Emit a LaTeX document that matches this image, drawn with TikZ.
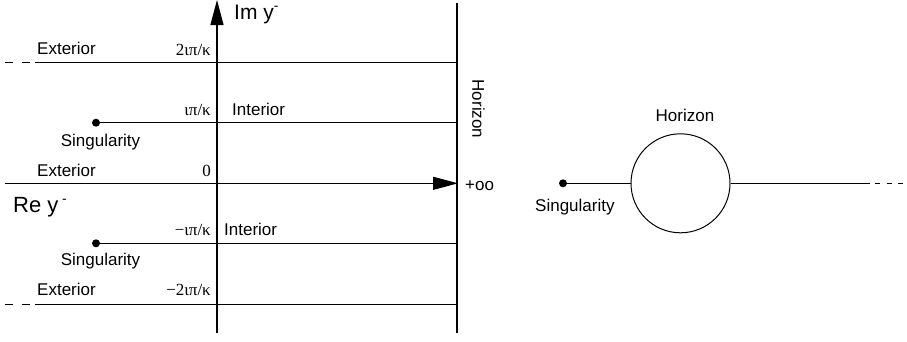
\documentclass[tikz,border=0pt]{standalone}
\usepackage{fontspec}
\setmainfont{Liberation Sans}
\newfontfamily\greekserif{Liberation Serif}
\usetikzlibrary{positioning}
\usetikzlibrary{arrows.meta}
\tikzset{
  lbl/.style={font=\fontsize{17}{19}\selectfont, inner sep=0pt},
  glbl/.style={font=\greekserif\fontsize{17}{19}\selectfont, inner sep=0pt},
  biglbl/.style={font=\fontsize{22}{24}\selectfont, inner sep=0pt},
  dot/.style={circle, fill, inner sep=0pt, minimum size=8pt},
  axis/.style={line width=1.2pt, -{Triangle[length=25pt,width=13pt]}},
  gridline/.style={line width=1pt},
  dashline/.style={line width=1pt, dash pattern=on 7.5pt off 9.5pt},
}
\newcommand\minussup{\raisebox{0.42em}[0pt][0pt]{\fontsize{14}{14}\selectfont -}}

\begin{document}
\begin{tikzpicture}[x=1pt,y=-1pt]
\useasboundingbox (0,0) rectangle (907,341);

% ---------- Axes ----------
\coordinate (ybot) at (217,333);
\coordinate (ytop) at (217,0);
\draw[axis] (ybot) -- (ytop);

\coordinate (xleft) at (5,183.3);
\coordinate (xright) at (458,183.3);
\draw[axis] (xleft) -- (xright);

% Horizon line
\coordinate (hztop) at (457,3);
\coordinate (hzbot) at (457,333);
\draw[line width=1.2pt] (hztop) -- (hzbot);

% ---------- Exterior lines ----------
\foreach \n/\y in {up/62, down/304}{
  \coordinate (ext\n) at (35,\y);
  \coordinate (dsh\n) at (5,\y);
  \draw[dashline] (dsh\n) -- (ext\n);
  \draw[gridline] (ext\n) -- (ext\n -| hztop);
}

% ---------- Singularities ----------
\foreach \n/\y in {up/122.7, down/243.3}{
  \node[dot] (sing\n) at (96,\y) {};
  \draw[gridline] (sing\n) -- (sing\n -| hztop);
}

% ---------- Labels ----------
\node[lbl, anchor=base west] (extlblup) at (37,54.5) {Exterior};
\node[lbl, anchor=base west] (extlblmid) at (37,176) {Exterior};
\node[lbl, anchor=base west] (extlbldown) at (37,295) {Exterior};

\node[glbl, anchor=base east] (twopi) at (211,55) {2ιπ/κ};
\node[glbl, anchor=base east] (onepi) at (211,115) {ιπ/κ};
\node[glbl, anchor=base east] (zero) at (211,176) {0};
\node[glbl, anchor=base east] (mpi) at (211,235) {−ιπ/κ};
\node[glbl, anchor=base east] (mtwopi) at (211,295) {−2ιπ/κ};

\node[lbl, anchor=base west] (intlblup) at (232,115) {Interior};
\node[lbl, anchor=base west] (intlbldown) at (224,235) {Interior};

\node[lbl, anchor=base] (singlblup) at (100.5,146.5) {Singularity};
\node[lbl, anchor=base] (singlbldown) at (100.5,265.5) {Singularity};

\node[biglbl, font=\fontsize{21}{23}\selectfont, anchor=base west]
  (imy) at (234,19.5) {Im y\minussup};
\node[biglbl, anchor=base west] (rey) at (13,212.7) {Re y\,\minussup};

\node[lbl, rotate=-90] (horlbl) at (478.5,109) {Horizon};
\node[lbl, anchor=base west] (infty) at (465,190.5) {+oo};

% ---------- Right picture ----------
\node[dot] (singr) at (563,183.3) {};
\node[circle, draw, line width=1pt, minimum size=99pt, inner sep=0pt]
  (horizon) at (680.5,183.3) {};
\coordinate (farend) at (870,183.3);
\coordinate (dshstart) at (875,183.3);
\coordinate (dshend) at (907,183.3);
\draw[gridline] (singr) -- (horizon);
\draw[gridline] (horizon) -- (farend);
\draw[line width=1pt, dash pattern=on 5pt off 6.5pt] (dshstart) -- (dshend);

\node[lbl, anchor=base] (horlblr) at (685,121.7) {Horizon};
\node[lbl, anchor=base west] (singlblr) at (535,211.7) {Singularity};

\end{tikzpicture}
\end{document}
